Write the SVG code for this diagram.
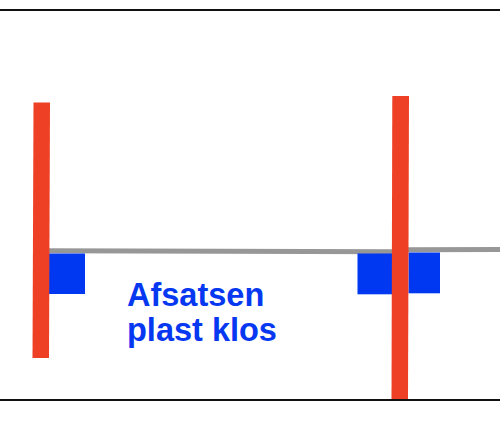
<svg xmlns="http://www.w3.org/2000/svg" width="500" height="434" viewBox="0 0 500 434">
<style>
.border{stroke:#111;stroke-width:2.2;fill:none}
.shelf{stroke:#979797;stroke-width:5;fill:none}
.post{fill:#ee4025}
.block{fill:#0038f2}
.label{font-family:"Liberation Sans",Arial,sans-serif;font-weight:bold;font-size:32.5px;fill:#0538f0}
</style>
<rect width="500" height="434" fill="#fff"/>
<g id="frame">
<line class="border" x1="0" y1="10" x2="500" y2="10"/>
<line class="border" x1="0" y1="400" x2="500" y2="400"/>
</g>
<g id="connectors">
<line class="shelf" x1="48" y1="250.8" x2="395" y2="251.8"/>
<line class="shelf" x1="406" y1="249.8" x2="500" y2="249.6"/>
</g>
<g id="left-block"><rect class="block" x="49" y="253.5" width="36" height="40.5"/></g>
<g id="right-block-a"><rect class="block" x="357.5" y="253.5" width="36" height="40.8"/></g>
<g id="right-block-b"><rect class="block" x="408.5" y="252.5" width="31.5" height="40.8"/></g>
<g id="left-post"><polygon class="post" points="33.5,102.5 50,102.5 49,358 32.5,358"/></g>
<g id="right-post"><polygon class="post" points="392.3,96 409,96 408,399 391.5,399"/></g>
<g id="label">
<text class="label" x="127" y="306">Afsatsen</text>
<text class="label" x="127" y="341">plast klos</text>
</g>
</svg>
